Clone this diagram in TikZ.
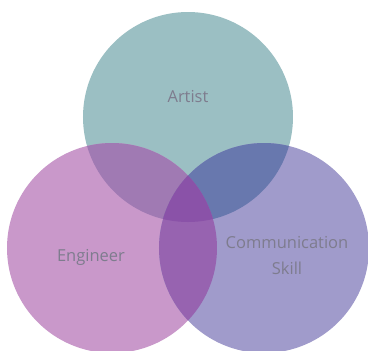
\documentclass[tikz,border=0pt]{standalone}
\usepackage{fontspec}
\setmainfont{Open Sans}
\begin{document}
\begin{tikzpicture}[x=1pt,y=-1pt,
  label text/.style={text=labelgray, font=\fontsize{16.5}{26}\selectfont, align=center}]
\definecolor{labelgray}{HTML}{7E7C8E}
\definecolor{cArt}{HTML}{9BBFC3}
\definecolor{cEng}{HTML}{C998CA}
\definecolor{cCom}{HTML}{A09BCB}
\definecolor{cAE}{HTML}{A07AB3}
\definecolor{cAC}{HTML}{6878AE}
\definecolor{cEC}{HTML}{9763B0}
\definecolor{cAll}{HTML}{8A52A8}
\useasboundingbox (0,0) rectangle (368,351);
\fill[white] (0,0) rectangle (368,351);
\begin{scope}
\clip (0,0) rectangle (368,351);
% single sets
\fill[cArt] (188,117) circle[radius=105];
\fill[cEng] (112,248) circle[radius=105];
\fill[cCom] (264,248) circle[radius=105];
% pairwise overlaps
\begin{scope}
  \clip (188,117) circle[radius=105];
  \fill[cAE] (112,248) circle[radius=105];
  \fill[cAC] (264,248) circle[radius=105];
\end{scope}
\begin{scope}
  \clip (112,248) circle[radius=105];
  \fill[cEC] (264,248) circle[radius=105];
  % triple overlap
  \clip (264,248) circle[radius=105];
  \fill[cAll] (188,117) circle[radius=105];
\end{scope}
\end{scope}
\node[label text] (art) at (188,97) {Artist};
\node[label text] (eng) at (91,257) {Engineer};
\node[label text] (com) at (287,256) {Communication\\Skill};
\end{tikzpicture}
\end{document}
